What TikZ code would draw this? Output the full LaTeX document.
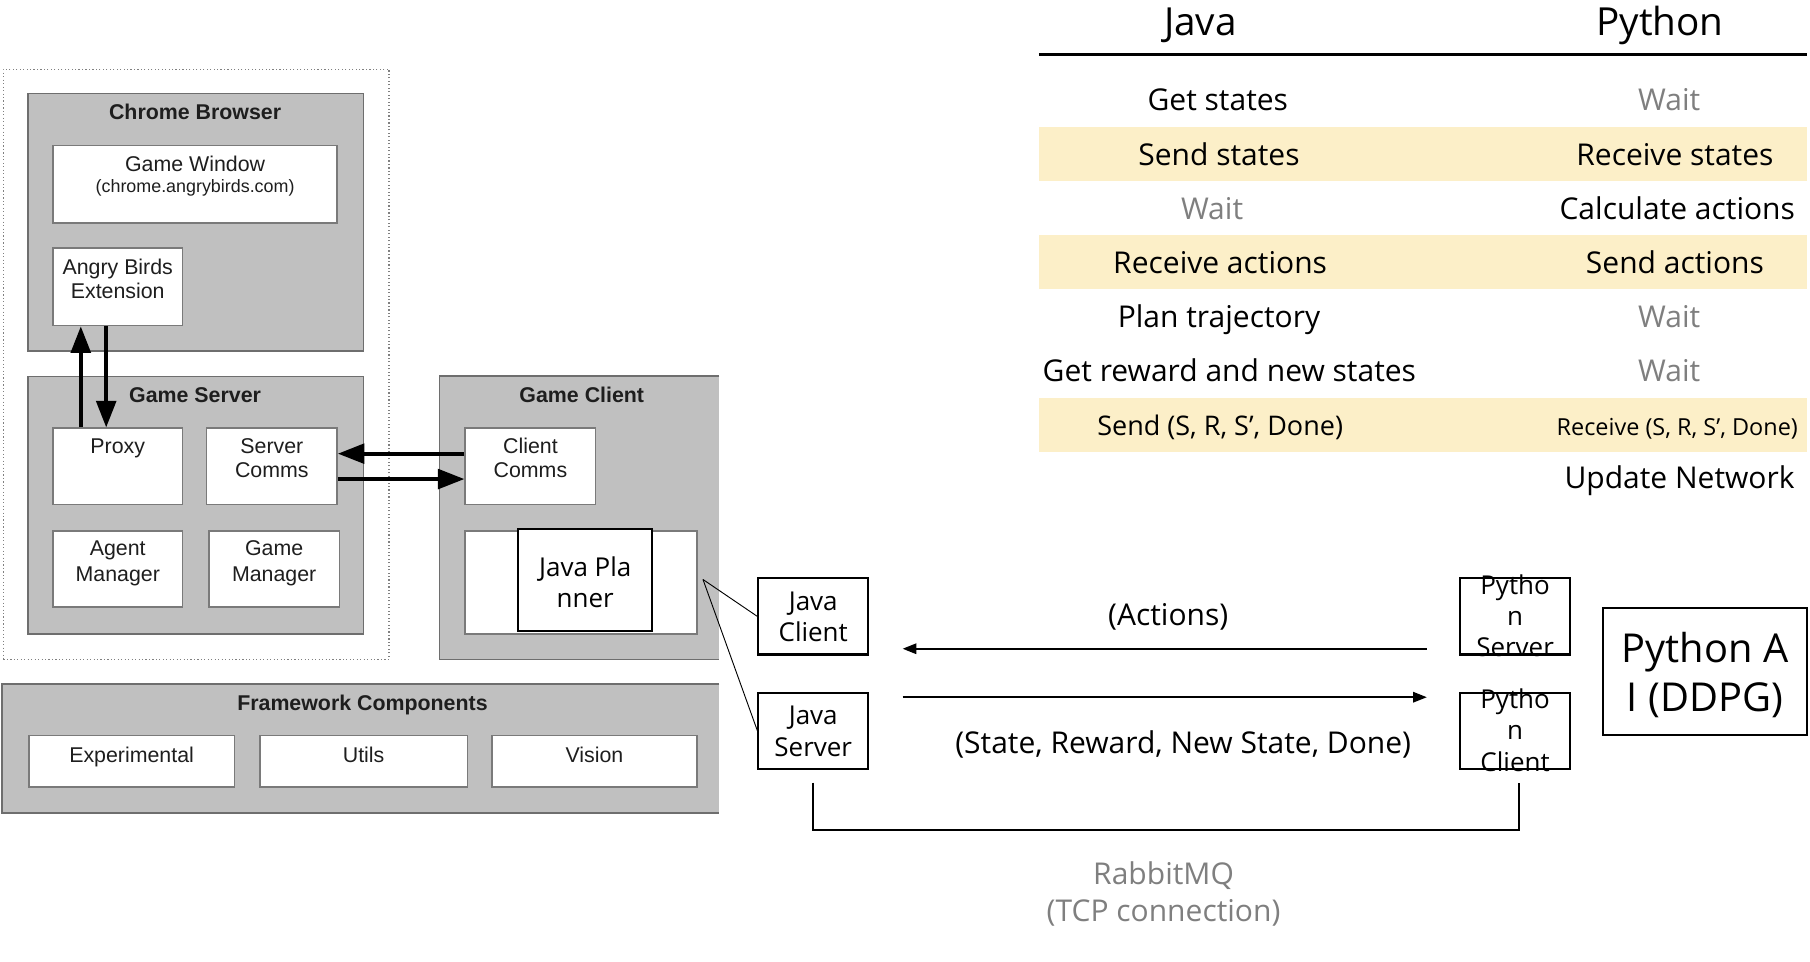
\documentclass[tikz,border=0pt]{standalone}
\usepackage{fontspec}
\setmainfont{Liberation Sans}
\newfontfamily\rfont{Open Sans}
\usetikzlibrary{arrows.meta,calc}
\definecolor{boxgray}{HTML}{C0C0C0}
\definecolor{edgegray}{HTML}{6E6E6E}
\definecolor{wedge}{HTML}{7A7A7A}
\definecolor{band}{HTML}{FCEFC8}
\definecolor{waitgray}{HTML}{7F7F7F}
\definecolor{ink}{HTML}{1E1E1E}
\begin{document}
\begin{tikzpicture}[x=1pt,y=-1pt,
  cont/.style={draw=edgegray,line width=1.4pt,fill=boxgray,inner sep=0},
  wbox/.style={draw=wedge,line width=1.4pt,fill=white,inner sep=0},
  kbox/.style={draw=black,line width=1.8pt,fill=white,inner sep=0},
  sz/.style 2 args={minimum width=#1pt,minimum height=#2pt},
  lt/.style={font=\fontsize{18.5}{21}\selectfont,text=ink,inner sep=0,anchor=base},
  lsm/.style={font=\fontsize{15.5}{18}\selectfont,text=ink,inner sep=0,anchor=base},
  lb/.style={font=\bfseries\fontsize{18.5}{21}\selectfont,text=ink,inner sep=0,anchor=base},
  rt/.style={font=\rfont\fontsize{26}{30}\selectfont,inner sep=0,anchor=base},
  rbox/.style={font=\rfont\fontsize{22.5}{27}\selectfont,inner sep=0,anchor=base},
  rbig/.style={font=\rfont\fontsize{34.5}{40}\selectfont,inner sep=0,anchor=base},
  rhead/.style={font=\rfont\fontsize{33.5}{38}\selectfont,inner sep=0,anchor=base},
  wait/.style={text=waitgray},
  fat/.style={line width=3.3pt,-{Triangle[length=23pt,width=17pt]}},
  thin/.style={line width=1.8pt,-{Triangle[length=12pt,width=9pt]}},
]
\useasboundingbox (0,0) rectangle (1568,833);

% ---------------- left framework diagram ----------------
\node[draw=gray,dotted,line width=1pt,inner sep=0,sz={334}{511}] (outer) at (170,315.5) {};

\node[cont,sz={291}{223}] (chrome) at (169.5,192.5) {};
\node[lb] (tchrome) at (169,103.5) {Chrome Browser};
\node[wbox,sz={246}{67}] (gamewin) at (169,159.5) {};
\node[lt] (tgw1) at (169,148.5) {Game Window};
\node[lsm] (tgw2) at (169,166.5) {(chrome.angrybirds.com)};
\node[wbox,sz={112}{67}] (ext) at (102,248.5) {};
\node[lt] (text1) at (102,237.5) {Angry Birds};
\node[lt] (text2) at (102,258.5) {Extension};

\node[cont,sz={291}{223}] (gserver) at (169.5,437.5) {};
\node[lb] (tgserver) at (169,348.5) {Game Server};
\node[wbox,sz={112}{66}] (proxy) at (102,404) {};
\node[lt] (tproxy) at (102,392.5) {Proxy};
\node[wbox,sz={113}{66}] (scomms) at (235.5,404) {};
\node[lt] (tsc1) at (235.5,392.5) {Server};
\node[lt] (tsc2) at (235.5,413.5) {Comms};
\node[wbox,sz={112}{66}] (agent) at (102,493) {};
\node[lt] (tam1) at (102,481.5) {Agent};
\node[lt] (tam2) at (102,503.5) {Manager};
\node[wbox,sz={113}{66}] (gmgr) at (237.5,493) {};
\node[lt] (tgm1) at (237.5,481.5) {Game};
\node[lt] (tgm2) at (237.5,503.5) {Manager};

\node[fill=boxgray,inner sep=0,sz={242}{245}] (gclient) at (502,448.5) {};
\draw[draw=edgegray,line width=1.4pt] (gclient.north east) -- (gclient.north west) -- (gclient.south west) -- (gclient.south east);
\node[lb] (tgclient) at (504,348.5) {Game Client};
\node[wbox,sz={113}{66}] (ccomms) at (459.5,404) {};
\node[lt] (tcc1) at (459.5,392.5) {Client};
\node[lt] (tcc2) at (459.5,413.5) {Comms};
\node[wbox,sz={201}{89}] (planbox) at (503.5,504.5) {};
\node[kbox,sz={116}{89}] (planner) at (507,502.5) {};
\node[rbox] (tpl1) at (507,499) {Java Pla};
\node[rbox] (tpl2) at (507,526) {nner};

\node[fill=boxgray,inner sep=0,sz={621}{111}] (frame) at (312.5,648.5) {};
\draw[draw=edgegray,line width=1.4pt] (frame.north east) -- (frame.north west) -- (frame.south west) -- (frame.south east);
\node[lb] (tframe) at (314,615.5) {Framework Components};
\node[wbox,sz={178}{45}] (exp) at (114,659.5) {};
\node[lt] (texp) at (114,660.5) {Experimental};
\node[wbox,sz={180}{45}] (utils) at (315,659.5) {};
\node[lt] (tutils) at (315,660.5) {Utils};
\node[wbox,sz={178}{45}] (vision) at (515,659.5) {};
\node[lt] (tvision) at (515,660.5) {Vision};

% thick arrows
\draw[fat] ($(proxy.north)+(-32,0)$) -- ($(ext.south)+(-32,0)$);
\draw[fat] ($(ext.south)+(-10,0)$) -- ($(proxy.north)+(-10,0)$);
\draw[fat] ($(ccomms.west)+(0,-11)$) -- ($(scomms.east)+(0,-11)$);
\draw[fat] ($(scomms.east)+(0,11)$) -- ($(ccomms.west)+(0,11)$);

% ---------------- right communication diagram ----------------
\node[kbox,sz={95}{66}] (jclient) at (704.5,534) {};
\node[rbox] (tjc1) at (704.5,529) {Java};
\node[rbox] (tjc2) at (704.5,556) {Client};
\node[kbox,sz={95}{66}] (jserver) at (704.5,633) {};
\node[rbox] (tjs1) at (704.5,628) {Java};
\node[rbox] (tjs2) at (704.5,655) {Server};
\node[kbox,sz={95}{66}] (pserver) at (1312.5,534) {};
\node[rbox] (tps1) at (1312.5,515) {Pytho};
\node[rbox] (tps2) at (1312.5,542) {n};
\node[rbox] (tps3) at (1312.5,569) {Server};
\node[kbox,sz={95}{66}] (pclient) at (1312.5,633) {};
\node[rbox] (tpc1) at (1312.5,614) {Pytho};
\node[rbox] (tpc2) at (1312.5,641) {n};
\node[rbox] (tpc3) at (1312.5,668) {Client};
\node[kbox,sz={176}{110}] (pai) at (1477,582) {};
\node[rbig] (tpai1) at (1477,574) {Python A};
\node[rbig] (tpai2) at (1477,616) {I (DDPG)};

\coordinate (callout) at (609,502);
\draw[line width=0.8pt] (callout) -- (jclient.west);
\draw[line width=0.8pt] (callout) -- (jserver.west);

\draw[thin] ($(pserver.west)+(-28,28)$) -- ($(jclient.east)+(29,28)$);
\node[rt] (tact) at (1012,541.5) {(Actions)};
\draw[thin] ($(jserver.east)+(29,-29)$) -- ($(pclient.west)+(-28,-29)$);
\node[rt] (tsrd) at (1025,652.5) {(State, Reward, New State, Done)};

\draw[line width=1.8pt] ($(jserver.south)+(0,11)$) -- ($(jserver.south)+(0,52)$) -| ($(pclient.south)+(3.5,11)$);
\node[rt,wait] (trmq1) at (1008,766) {RabbitMQ};
\node[rt,wait] (trmq2) at (1008,798) {(TCP connection)};

% ---------------- table ----------------
\fill[band] (900,110) rectangle (1565,157);
\fill[band] (900,204) rectangle (1565,250);
\fill[band] (900,344.5) rectangle (1565,391.5);
\node[rhead] (hjava) at (1040,31) {Java};
\node[rhead] (hpy) at (1438,31) {Python};
\draw[line width=3pt] (900,47) coordinate (rl) -- (1565,47) coordinate (rr);

\node[rt] (j1) at (1055,95.5) {Get states};
\node[rt,wait] (p1) at (1446,95.5) {Wait};
\node[rt] (j2) at (1056,143) {Send states};
\node[rt] (p2) at (1451,143) {Receive states};
\node[rt,wait] (j3) at (1050,190) {Wait};
\node[rt] (p3) at (1453,190) {Calculate actions};
\node[rt] (j4) at (1057,237) {Receive actions};
\node[rt] (p4) at (1451,237) {Send actions};
\node[rt] (j5) at (1056,283.5) {Plan trajectory};
\node[rt,wait] (p5) at (1446,283.5) {Wait};
\node[rt] (j6) at (1065,330.5) {Get reward and new states};
\node[rt,wait] (p6) at (1446,330.5) {Wait};
\node[rt,font=\rfont\fontsize{23.4}{27}\selectfont] (j7) at (1057,377) {Send (S, R, S’, Done)};
\node[rt,font=\rfont\fontsize{20.3}{24}\selectfont] (p7) at (1453,377) {Receive (S, R, S’, Done)};
\node[rt] (p8) at (1455,423) {Update Network};
\end{tikzpicture}
\end{document}
